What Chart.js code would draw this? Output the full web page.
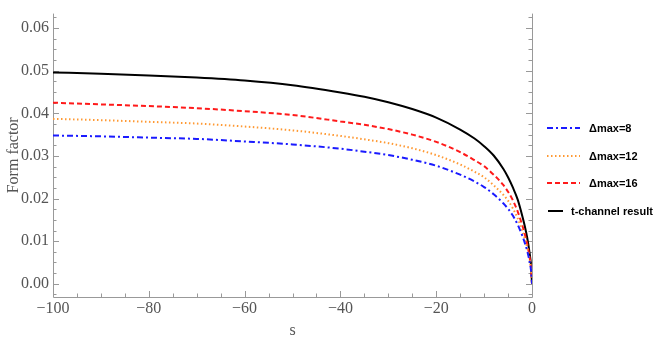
<!DOCTYPE html>
<html lang="en">
<head>
    <meta charset="UTF-8">
    <title>Form factor</title>
    <script src="https://cdn.jsdelivr.net/npm/chart.js"></script>
    <style>
        body {
            margin: 0;
            background: #fff;
        }
        #chart {
            display: block;
        }
    </style>
</head>
<body>

<canvas id="chart" width="664" height="340"></canvas>

<script>
    const sValues = [-100, -90, -80, -70, -60, -50, -40, -35, -30, -25, -20, -15, -12, -10, -8, -6, -5, -4, -3, -2, -1.5, -1, -0.5, -0.2, 0];

    const dmax8 = [0.0348, 0.0346, 0.0343, 0.0340, 0.0334, 0.0327, 0.0317, 0.0310, 0.0302, 0.0291, 0.0277, 0.0256, 0.0240, 0.0227, 0.0210, 0.0189, 0.0176, 0.0160, 0.0139, 0.0112, 0.0096, 0.0077, 0.0052, 0.0031, 0];
    const dmax12 = [0.0387, 0.0384, 0.0380, 0.0376, 0.0369, 0.0360, 0.0347, 0.0339, 0.0330, 0.0318, 0.0302, 0.0280, 0.0263, 0.0250, 0.0231, 0.0209, 0.0195, 0.0177, 0.0154, 0.0123, 0.0106, 0.0085, 0.0057, 0.0034, 0];
    const dmax16 = [0.0425, 0.0421, 0.0417, 0.0412, 0.0405, 0.0396, 0.0381, 0.0373, 0.0363, 0.0350, 0.0333, 0.0309, 0.0290, 0.0276, 0.0256, 0.0232, 0.0216, 0.0196, 0.0170, 0.0136, 0.0116, 0.0093, 0.0062, 0.0037, 0];
    const tChannel = [0.0496, 0.0493, 0.0489, 0.0484, 0.0477, 0.0466, 0.0449, 0.0439, 0.0426, 0.0410, 0.0390, 0.0362, 0.0341, 0.0323, 0.0301, 0.0270, 0.0250, 0.0226, 0.0198, 0.0158, 0.0135, 0.0108, 0.0072, 0.0043, 0];

    const seriesLabels = ['Δmax=8', 'Δmax=12', 'Δmax=16', 't-channel result'];

    // axis ticks
    const xTicks = [-100, -80, -60, -40, -20, 0];
    const xMinor = [-95, -90, -85, -75, -70, -65, -55, -50, -45, -35, -30, -25, -15, -10, -5];
    const yTicks = [0, 0.01, 0.02, 0.03, 0.04, 0.05, 0.06];
    const yMinor = [-0.0025, 0.0025, 0.005, 0.0075, 0.0125, 0.015, 0.0175, 0.0225, 0.025, 0.0275,
        0.0325, 0.035, 0.0375, 0.0425, 0.045, 0.0475, 0.0525, 0.055, 0.0575, 0.0625];

    const axisGray = '#999';
    const labelGray = '#555';
    const serif = '"Liberation Serif", "DejaVu Serif", serif';

    function pts(vals) {
        return sValues.map((s, i) => ({ x: s, y: vals[i] }));
    }

    function lineSet(label, vals, color, dash) {
        return {
            label: label,
            data: pts(vals),
            borderColor: color,
            borderWidth: 2,
            borderDash: dash,
            pointRadius: 0,
            fill: false,
            cubicInterpolationMode: 'monotone'
        };
    }

    // frame on left / bottom / right with inward ticks
    const frameTicks = {
        id: 'frameTicks',
        beforeDatasetsDraw(chart) {
            const { ctx, chartArea: a, scales: { x, y } } = chart;
            ctx.save();
            ctx.strokeStyle = axisGray;
            ctx.lineWidth = 1;
            ctx.beginPath();
            ctx.moveTo(a.left + 0.5, a.top);
            ctx.lineTo(a.left + 0.5, a.bottom + 0.5);
            ctx.lineTo(a.right + 0.5, a.bottom + 0.5);
            ctx.lineTo(a.right + 0.5, a.top);
            ctx.stroke();

            ctx.beginPath();
            const yTick = (v, len) => {
                const py = Math.round(y.getPixelForValue(v)) + 0.5;
                ctx.moveTo(a.left, py); ctx.lineTo(a.left + len, py);
                ctx.moveTo(a.right, py); ctx.lineTo(a.right - len, py);
            };
            const xTick = (v, len) => {
                const px = Math.round(x.getPixelForValue(v)) + 0.5;
                ctx.moveTo(px, a.bottom); ctx.lineTo(px, a.bottom - len);
            };
            yTicks.forEach(v => yTick(v, 6));
            yMinor.forEach(v => yTick(v, 3.5));
            xTicks.forEach(v => xTick(v, 6));
            xMinor.forEach(v => xTick(v, 3.5));
            ctx.stroke();
            ctx.restore();
        }
    };

    // legend on the right, drawn from the datasets
    // (the last entry has a shorter sample line, as in the original)
    const legendRows = [
        { y: 128, x0: 547, x1: 580, tx: 589 },
        { y: 156, x0: 547, x1: 580, tx: 589 },
        { y: 183, x0: 547, x1: 580, tx: 589 },
        { y: 211, x0: 548, x1: 563, tx: 571 }
    ];
    const sideLegend = {
        id: 'sideLegend',
        afterDraw(chart) {
            const ctx = chart.ctx;
            ctx.save();
            ctx.font = 'bold 11px "Liberation Sans", Arial, sans-serif';
            ctx.textBaseline = 'middle';
            chart.data.datasets.forEach((ds, i) => {
                const r = legendRows[i];
                ctx.strokeStyle = ds.borderColor;
                ctx.lineWidth = ds.borderWidth;
                ctx.setLineDash(ds.borderDash || []);
                ctx.beginPath();
                ctx.moveTo(r.x0, r.y);
                ctx.lineTo(r.x1, r.y);
                ctx.stroke();
                ctx.setLineDash([]);
                ctx.fillStyle = '#000';
                ctx.fillText(ds.label, r.tx, r.y + 1);
            });
            ctx.restore();
        }
    };

    new Chart(document.getElementById('chart'), {
        type: 'line',
        data: {
            datasets: [
                lineSet(seriesLabels[0], dmax8, '#1a1aff', [6, 3, 2, 3]),
                lineSet(seriesLabels[1], dmax12, '#ff9933', [1.5, 2.5]),
                lineSet(seriesLabels[2], dmax16, '#ff1a1a', [5, 3]),
                lineSet(seriesLabels[3], tChannel, '#000', [])
            ]
        },
        options: {
            responsive: false,
            animation: false,
            devicePixelRatio: 1,
            layout: { padding: { top: 0, right: 132, left: 0, bottom: 0 } },
            plugins: {
                legend: { display: false },
                tooltip: { enabled: false }
            },
            scales: {
                x: {
                    type: 'linear',
                    min: -100,
                    max: 0,
                    afterFit(scale) { scale.height = 43; },
                    afterBuildTicks(scale) { scale.ticks = xTicks.map(v => ({ value: v })); },
                    grid: { display: false, drawTicks: false, tickLength: 0 },
                    border: { display: false },
                    ticks: {
                        color: labelGray,
                        font: { family: serif, size: 16 },
                        padding: 2,
                        maxRotation: 0,
                        callback: v => (v < 0 ? '\u2212' + Math.abs(v) : String(v))
                    },
                    title: {
                        display: true,
                        text: 's',
                        color: labelGray,
                        font: { family: serif, size: 16 },
                        padding: { top: 0, bottom: 0 }
                    }
                },
                y: {
                    type: 'linear',
                    min: -0.0031,
                    max: 0.0634,
                    afterFit(scale) { scale.width = 53; },
                    afterBuildTicks(scale) { scale.ticks = yTicks.map(v => ({ value: v })); },
                    grid: { display: false, drawTicks: false, tickLength: 0 },
                    border: { display: false },
                    ticks: {
                        color: labelGray,
                        font: { family: serif, size: 16 },
                        padding: 4,
                        callback: v => v.toFixed(2)
                    },
                    title: {
                        display: true,
                        text: 'Form factor',
                        color: labelGray,
                        font: { family: serif, size: 16 },
                        padding: { top: 4, bottom: 0 }
                    }
                }
            }
        },
        plugins: [frameTicks, sideLegend]
    });
</script>

</body>
</html>
